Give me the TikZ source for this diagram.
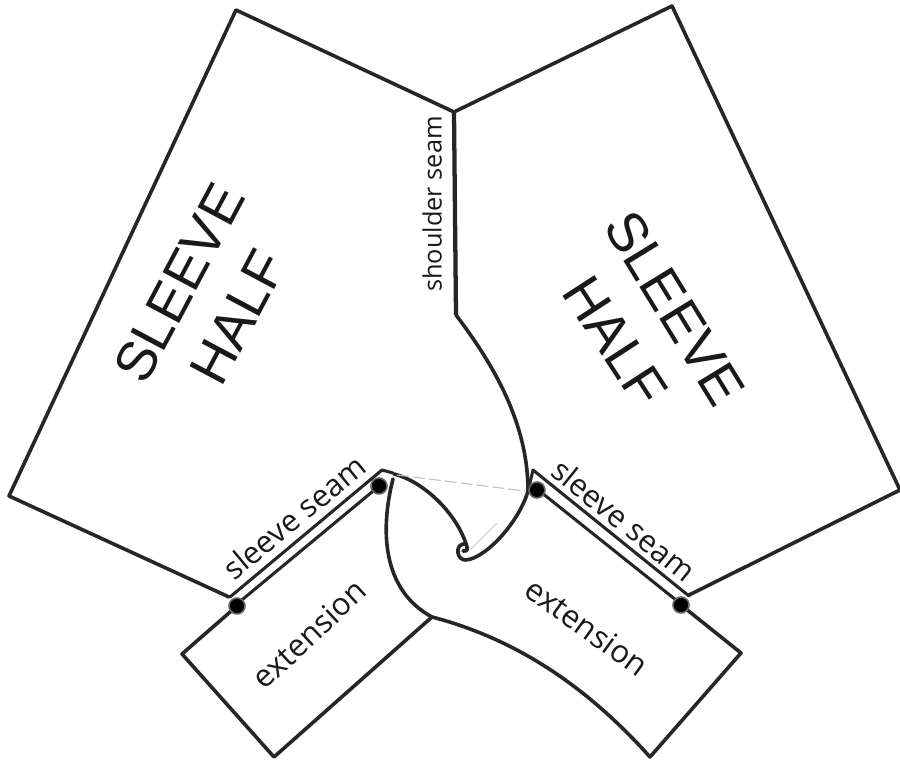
\documentclass[tikz,border=0pt]{standalone}
\usepackage{fontspec}
\setmainfont{Liberation Sans}
\newfontfamily\labelfont{Open Sans}
\tikzset{
  edge/.style={draw=black!85,line width=2.7pt,line join=round,line cap=round},
  thinedge/.style={draw=black!85,line width=2.3pt,line join=round,line cap=round},
  dot/.style={fill=black,draw=black!60,line width=1.2pt},
  big/.style={font=\fontsize{41.5}{46}\selectfont,text=black!90,inner sep=0pt,align=center},
  small/.style={font=\labelfont\fontsize{23.5}{27}\selectfont,text=black!90,inner sep=0pt},
  seamlabel/.style={font=\labelfont\fontsize{23}{27}\selectfont,text=black!90,inner sep=0pt},
  shoulderlabel/.style={font=\labelfont\fontsize{19}{23}\selectfont,text=black!90,inner sep=0pt}
}
\begin{document}
\begin{tikzpicture}[x=0.75pt,y=-0.75pt]
\useasboundingbox (0,0) rectangle (900,762);
\draw[edge] (229,597) -- (9,496) -- (236,10) -- (454,112) -- (672,6) -- (900,490) -- (689,595);
\draw[draw=black!85,line width=3.2pt] (454,112) -- (456,315);
\draw[edge] (456,315) .. controls (490,360) and (528,420) .. (528,491);
\draw[thinedge] (230,597) -- (382,470) -- (393,473);
\draw[thinedge] (237,604) -- (378,487);
\draw[thinedge] (533,470) -- (689,596);
\draw[thinedge] (537,489) -- (681,604);
\draw[thinedge] (528,491) -- (533,470);
\draw[edge] (237,606) -- (182,654) -- (274,757) -- (432,617);
\draw[edge] (681,605) -- (741,653) -- (650,757) .. controls (590,690) and (520,640) .. (432,617);
\draw[edge] (393,479) .. controls (380,530) and (382,590) .. (432,617);
\draw[edge] (394,474) .. controls (425,482) and (458,515) .. (467,547)
  .. controls (468,551) and (465,552) .. (463,551);
\draw[edge] (466,544) .. controls (460,543) and (457,548) .. (458,553)
  .. controls (459,558) and (462,560) .. (466,560)
  .. controls (487,558) and (520,520) .. (528,491);
\draw[draw=black!25,line width=0.8pt,dash pattern=on 9pt off 3pt] (397,475) -- (525,491);
\draw[draw=black!20,line width=0.6pt] (470,550) -- (497,523);
\fill[dot] (237,606) circle (8);
\fill[dot] (379,486) circle (8);
\fill[dot] (537,490) circle (8);
\fill[dot] (681,605) circle (8);
\node[big,rotate=62] (s1a) at (179,283) {SLEEVE};
\node[big,rotate=62] (s1b) at (238,317) {HALF};
\node[big,rotate=-58.5] (s2a) at (675,308) {SLEEVE};
\node[big,rotate=-57] (s2b) at (615,341) {HALF};
\node[shoulderlabel,rotate=90] (sh) at (432,204) {shoulder seam};
\node[seamlabel,rotate=39.5] (ssl) at (294,517) {sleeve seam};
\node[seamlabel,rotate=-39] (ssr) at (624,520) {sleeve seam};
\node[small,rotate=43] (ext1) at (309,634) {extension};
\node[small,rotate=-36] (ext2) at (587,627) {extension};
\end{tikzpicture}
\end{document}
